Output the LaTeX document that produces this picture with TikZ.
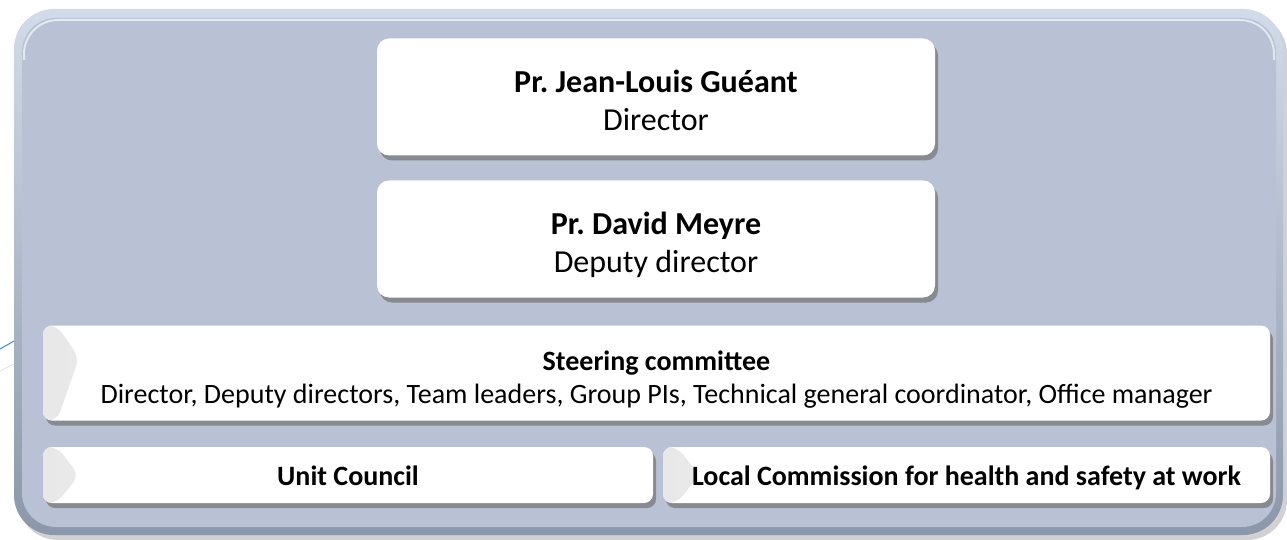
\documentclass[tikz,border=0pt]{standalone}
\usepackage{fontspec}
\setmainfont{Carlito}
\usetikzlibrary{shadows}
\definecolor{framefill}{HTML}{B8C2D4}
\definecolor{frametop}{HTML}{D2DBE9}
\definecolor{framebot}{HTML}{8B97AA}
\definecolor{strayblue}{HTML}{3C8AD0}
\frenchspacing
\newcommand{\topup}[1]{\rule{0pt}{#1pt}}
\newcommand{\botdown}[1]{\rule[-#1pt]{0pt}{#1pt}}
\begin{document}
\begin{tikzpicture}
  [x=1pt,y=-1pt,
   card/.style={rectangle,rounded corners=12pt,fill=white,inner sep=0pt,
     align=center,font=\fontsize{32}{38}\selectfont,
     drop shadow={shadow xshift=3pt,shadow yshift=-5pt,fill=black!55,opacity=.7}},
   chev/.style={card,rounded corners=9pt,font=\fontsize{28}{33}\selectfont,
     path picture={\shade[left color=black!9,right color=white]
       (path picture bounding box.north west) -- ++(14pt,0pt)
       -- ([xshift=36pt,yshift=#1]path picture bounding box.west)
       -- ([xshift=14pt]path picture bounding box.south west)
       -- (path picture bounding box.south west) -- cycle;}},
   chev/.default=0pt]
  \useasboundingbox (0,0) rectangle (1287,540);

  % frame
  \fill[black!30,opacity=.6,rounded corners=40pt] (18,14) rectangle (1287,540);
  \shade[top color=frametop,bottom color=framebot,rounded corners=40pt]
    (14,9) rectangle (1283,535);
  \fill[framefill,rounded corners=34pt] (22,18) rectangle (1276,527);
  \draw[white!60!framefill,line width=2pt,rounded corners=34pt]
    (24,60) -- (24,20) -- (1274,20) -- (1274,60);

  % stray lines at the left edge
  \coordinate (b1) at (0,349);
  \coordinate (b2) at (14,341);
  \coordinate (g1) at (0,371);
  \coordinate (g2) at (14,364);
  \draw[strayblue,line width=1pt] (b1) -- (b2);
  \draw[black!15,line width=.6pt] (g1) -- (g2);

  \node[card,minimum width=558pt,minimum height=117pt] (1) at (656,97)
    {\topup{40}\textbf{Pr. Jean-Louis Guéant}\\Director\botdown{10}};
  \node[card,minimum width=558pt,minimum height=117pt] (2) at (656,239)
    {\topup{38}\textbf{Pr. David Meyre}\\Deputy director\botdown{10}};
  \node[chev=15pt,minimum width=1227pt,minimum height=95pt] (3) at (656.5,373)
    {\topup{36}\textbf{Steering committee}\\Director, Deputy directors, Team leaders, Group PIs, Technical general coordinator, Office manager\botdown{9}};
  \node[chev,minimum width=610pt,minimum height=56pt] (4) at (348,475)
    {\topup{28}\textbf{Unit Council}\botdown{8}};
  \node[chev,minimum width=607pt,minimum height=56pt] (5) at (966.5,475)
    {\topup{28}\textbf{Local Commission for health and safety at work}\botdown{8}};

\end{tikzpicture}
\end{document}
